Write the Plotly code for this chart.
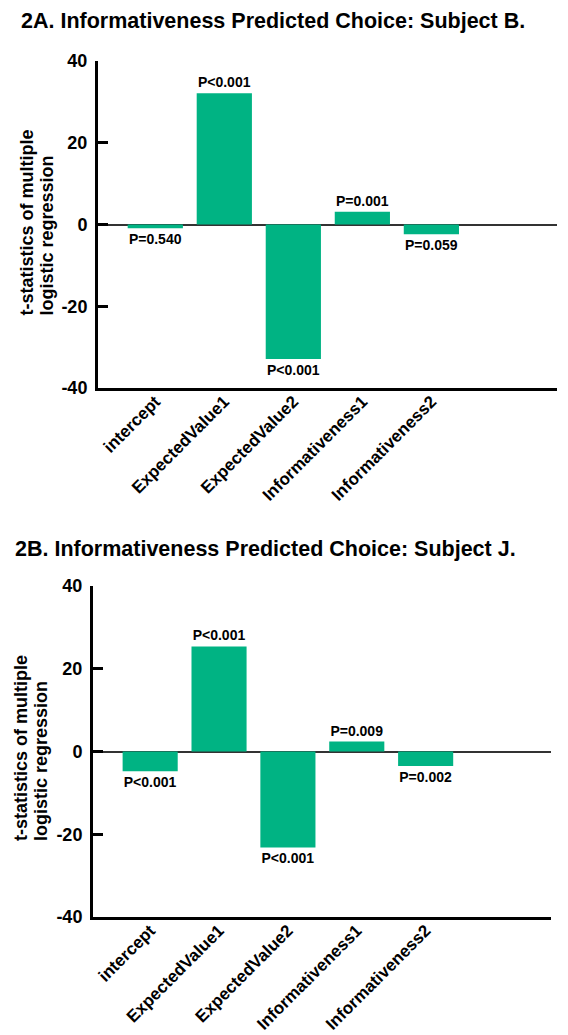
import plotly.graph_objects as go

categories = ["intercept", "ExpectedValue1", "ExpectedValue2", "Informativeness1", "Informativeness2"]
tstat_B = [-0.9, 32.1, -32.9, 3.1, -2.4]
pvals_B = ["P=0.540", "P<0.001", "P<0.001", "P=0.001", "P=0.059"]
tstat_J = [-4.8, 25.4, -23.2, 2.4, -3.5]
pvals_J = ["P<0.001", "P<0.001", "P<0.001", "P=0.009", "P=0.002"]
yticks = [-40, -20, 0, 20, 40]
yticktext = ["-40", "-20", "0", "20", "40"]
titles = ["2A. Informativeness Predicted Choice: Subject B.",
          "2B. Informativeness Predicted Choice: Subject J."]
ytitle_lines = ["t-statistics of multiple", "logistic regression"]

# page body has an 8px margin; figure coordinates are offset accordingly
OFF = 8
W, H = 568 - OFF, 1035 - OFF
FONT = "Liberation Sans, Arial, Helvetica, sans-serif"
GREEN = "#00b383"

fig = go.Figure()

def px_x(p):
    return (p - OFF) / W

def px_y(p):
    return 1 - (p - OFF) / H

panels = [
    dict(vals=tstat_B, txt=pvals_B, xd=(98, 557), yd=(61, 388),
         title_x=20, title_y=8, title_anchor="top", yt_x=(26.5, 46.5), yt_bottom=318),
    dict(vals=tstat_J, txt=pvals_J, xd=(93, 551), yd=(586, 917),
         title_x=14, title_y=549, title_anchor="middle", yt_x=(21, 41), yt_bottom=843),
]

layout_axes = {}
annotations = []
for i, p in enumerate(panels):
    suffix = "" if i == 0 else "2"
    fig.add_trace(go.Bar(
        x=categories, y=p["vals"], text=p["txt"], textposition="outside",
        constraintext="none", cliponaxis=False,
        textfont=dict(family=FONT, size=14, color="black", weight="bold"),
        marker=dict(color=GREEN, line=dict(width=0)), width=0.8,
        xaxis="x" + suffix, yaxis="y" + suffix, showlegend=False,
    ))
    layout_axes["xaxis" + suffix] = dict(
        domain=[px_x(p["xd"][0]), px_x(p["xd"][1])], anchor="y" + suffix,
        range=[-0.83, 5.82], showline=True, linecolor="black", linewidth=3,
        ticks="", tickangle=-45, showgrid=False, zeroline=False,
        ticklabelstandoff=-6,
        tickfont=dict(family=FONT, size=17, color="black", weight="bold"),
    )
    layout_axes["yaxis" + suffix] = dict(
        domain=[px_y(p["yd"][1]), px_y(p["yd"][0])], anchor="x" + suffix,
        range=[-40, 40], tickvals=yticks, ticktext=yticktext, showline=True,
        linecolor="black", linewidth=3, ticks="inside", ticklen=10, tickwidth=3,
        tickcolor="black", showgrid=False, zeroline=True, zerolinecolor="#333333",
        zerolinewidth=2, ticklabelstandoff=4,
        tickfont=dict(family=FONT, size=18, color="black", weight="bold"),
    )
    annotations.append(dict(
        text=titles[i], xref="paper", yref="paper", x=px_x(p["title_x"]),
        y=px_y(p["title_y"]), xanchor="left", yanchor=p["title_anchor"],
        showarrow=False, borderpad=0,
        font=dict(family=FONT, size=21.5, color="black", weight="bold"),
    ))
    for j, line in enumerate(ytitle_lines):
        annotations.append(dict(
            text=line, xref="paper", yref="paper", x=px_x(p["yt_x"][j]),
            y=px_y(p["yt_bottom"]), xanchor="center", yanchor="bottom",
            showarrow=False, textangle=-90,
            font=dict(family=FONT, size=18, color="black", weight="bold"),
        ))

fig.update_layout(
    width=W, height=H, autosize=False,
    margin=dict(l=0, r=0, t=0, b=0, autoexpand=False),
    paper_bgcolor="white", plot_bgcolor="white",
    bargap=0.2, annotations=annotations, **layout_axes,
)

fig.write_html("out.html")
